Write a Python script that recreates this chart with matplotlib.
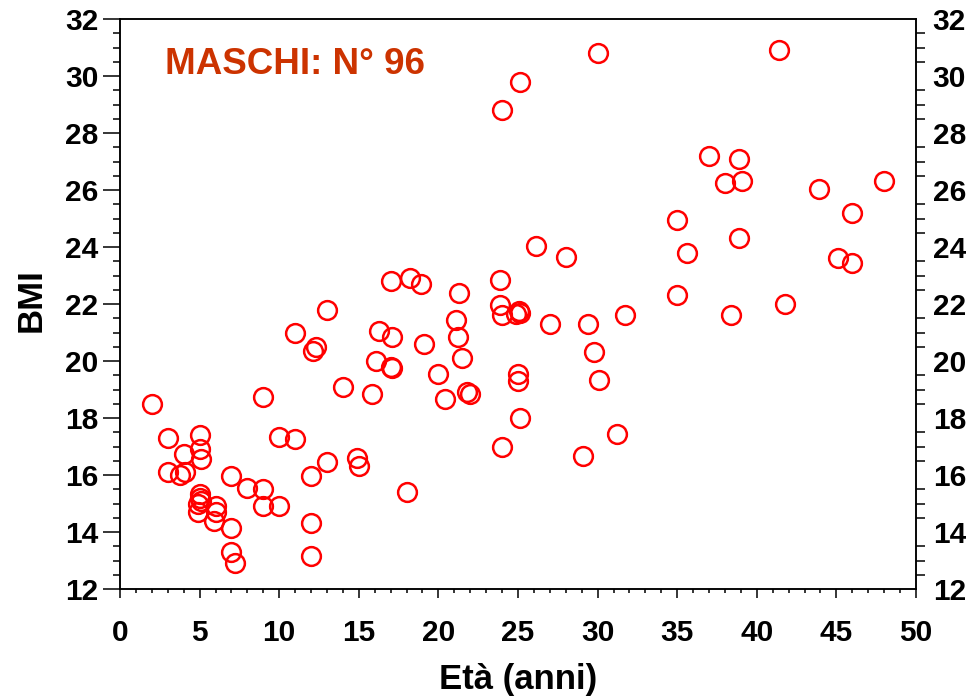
"""BMI vs age scatter for the male sample."""

import matplotlib

matplotlib.use("Agg")
import matplotlib.pyplot as plt
import matplotlib.ticker as mticker

plt.rcParams["font.family"] = ["Liberation Sans", "DejaVu Sans"]
plt.rcParams["font.weight"] = "bold"

# age (years) and BMI
ETA = [
    2, 9, 3, 5, 10, 11, 4, 5, 5.1, 3, 3.8, 4.1, 7, 8, 9,
    5, 5, 5.1, 4.9, 4.9, 6, 6, 5.9, 9, 10, 7, 7, 7.2, 12, 12, 12, 13,
    17, 18.2, 18.9, 21.3, 13, 11, 16.3, 17.1, 21.1, 21.2, 12.3, 12.1,
    19.1, 16.1, 17, 17.1, 21.5, 20, 14, 15.8, 20.4, 21.8, 22, 14.9, 15, 18,
    30, 25.1, 24, 26.1, 28, 23.9, 23.9, 24, 24.9, 25.05, 25.1, 27, 29.4,
    31.7, 29.8, 25, 25, 30.1, 25.1, 24, 31.2, 29.1,
    41.4, 37, 38.9, 38, 39.1, 43.9, 48, 46, 35, 38.9, 35.6, 45.1, 46, 35,
    41.8, 38.4,
]
BMI = [
    18.5, 18.75, 17.3, 17.4, 17.35, 17.25, 16.75, 16.9, 16.55, 16.1, 16.0, 16.1,
    15.95, 15.55, 15.5,
    15.35, 15.2, 15.1, 15.0, 14.7, 14.9, 14.7, 14.4, 14.9, 14.9, 14.15, 13.3,
    12.9, 15.95, 14.3, 13.15, 16.45,
    22.8, 22.9, 22.7, 22.4, 21.8, 21.0, 21.05, 20.85, 21.45, 20.85, 20.5, 20.35,
    20.6, 20.0, 19.8, 19.75, 20.1, 19.55, 19.1, 18.85, 18.65, 18.9, 18.85, 16.6,
    16.3, 15.4,
    30.8, 29.8, 28.8, 24.05, 23.65, 22.85, 21.95, 21.6, 21.65, 21.75, 21.7,
    21.3, 21.3, 21.6, 20.3, 19.55, 19.3, 19.35, 18.0, 17.0, 17.45, 16.65,
    30.9, 27.2, 27.1, 26.25, 26.3, 26.05, 26.3, 25.2, 24.95, 24.3, 23.8, 23.6,
    23.45, 22.3, 22.0, 21.6,
]

fig = plt.figure(figsize=(9.66, 6.97), dpi=100)
ax = fig.add_axes([120 / 966, 1 - 589 / 697, 796 / 966, 570 / 697])

ax.plot(ETA, BMI, linestyle="none", marker="o", markersize=13.5,
        markerfacecolor="none", markeredgecolor="#ff0000", markeredgewidth=1.8)

ax.set_xlim(0, 50)
ax.set_ylim(12, 32)
ax.xaxis.set_major_locator(mticker.MultipleLocator(5))
ax.xaxis.set_minor_locator(mticker.MultipleLocator(1))
ax.yaxis.set_major_locator(mticker.MultipleLocator(2))
ax.yaxis.set_minor_locator(mticker.MultipleLocator(0.5))

for side in ax.spines.values():
    side.set_linewidth(1.1)

ax.tick_params(axis="x", which="major", direction="out", length=6.5, width=1.1,
               pad=15, labelsize=21.5, top=False)
ax.tick_params(axis="x", which="minor", direction="out", length=3, width=1.1, top=False)
ax.tick_params(axis="y", which="major", direction="out", length=12.5, width=1.1,
               pad=3, labelsize=21.5, right=False)
ax.tick_params(axis="y", which="minor", direction="out", length=5, width=1.1, right=False)

# right-hand axis: labels plus short ticks only between the labels
ax2 = ax.twinx()
ax2.set_ylim(12, 32)
ax2.yaxis.set_major_locator(mticker.MultipleLocator(2))
ax2.yaxis.set_minor_locator(mticker.MultipleLocator(0.5))
ax2.tick_params(axis="y", which="major", length=0, pad=12, labelsize=21.5)
ax2.tick_params(axis="y", which="minor", direction="out", length=6.5, width=1.1)
for side in ax2.spines.values():
    side.set_linewidth(1.1)

ax.set_xlabel("Età (anni)", fontsize=25, fontweight="bold")
ax.xaxis.set_label_coords(0.5, -0.13)
ax.set_ylabel("BMI", fontsize=25, fontweight="bold")
ax.yaxis.set_label_coords(-0.091, 0.507)

ax.text(0.057, 0.9035, "MASCHI: N° 96", transform=ax.transAxes, color="#cc3300",
        fontsize=26.5, fontweight="bold", ha="left", va="baseline")

fig.savefig("out.png", dpi=100)
